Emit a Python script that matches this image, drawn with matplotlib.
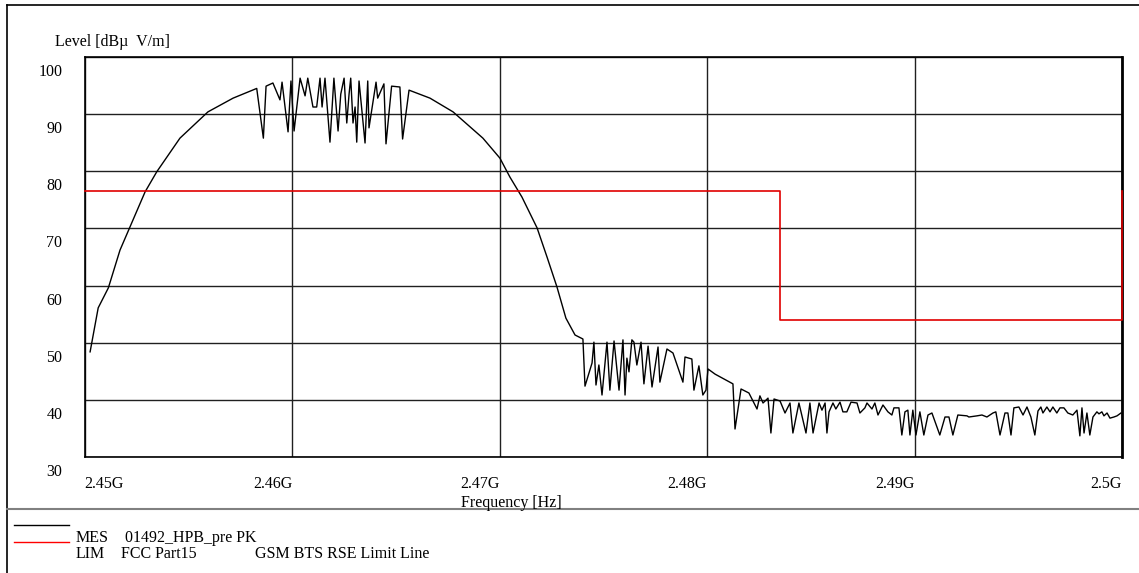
import matplotlib
matplotlib.use('Agg')
import matplotlib.pyplot as plt
from matplotlib.transforms import ScaledTranslation
from matplotlib.lines import Line2D

plt.rcParams['font.family'] = ['Liberation Serif', 'DejaVu Serif']

# measured trace, frequency in MHz / level in dBuV/m
freq_mhz = [
    2450.27, 2450.66, 2451.15, 2451.71, 2452.19, 2452.92, 2453.48, 2454.60, 2455.95, 2457.16, 2458.30,
    2458.62, 2458.75, 2459.08, 2459.42, 2459.52, 2459.81, 2459.95, 2460.10, 2460.39, 2460.63,
    2460.76, 2461.01, 2461.19, 2461.35, 2461.45, 2461.59, 2461.83, 2462.02, 2462.22, 2462.35,
    2462.51, 2462.64, 2462.75, 2462.83, 2462.94, 2463.04, 2463.12, 2463.23, 2463.52, 2463.65,
    2463.71, 2464.05, 2464.13, 2464.43, 2464.53, 2464.80, 2465.20, 2465.33, 2465.64,
    2466.65, 2467.76, 2469.20, 2470.02, 2470.50, 2471.08, 2471.81, 2472.29, 2472.77, 2473.20,
    2473.64, 2474.02,
    2474.12, 2474.46, 2474.55, 2474.65, 2474.79, 2474.94, 2475.18, 2475.32, 2475.52, 2475.76,
    2475.95, 2476.05, 2476.14, 2476.24, 2476.38, 2476.48, 2476.62, 2476.82, 2476.96, 2477.16,
    2477.35, 2477.64, 2477.73, 2478.07, 2478.36, 2478.84, 2478.94, 2479.27, 2479.37, 2479.61,
    2479.80, 2479.95, 2480.05, 2480.39, 2481.25, 2481.35, 2481.64, 2482.02, 2482.41, 2482.55,
    2482.70, 2482.94, 2483.08, 2483.23, 2483.52, 2483.76, 2484.00, 2484.14, 2484.43, 2484.77,
    2484.96, 2485.11, 2485.40, 2485.54, 2485.69, 2485.78, 2485.88, 2486.07, 2486.21, 2486.41,
    2486.55, 2486.74, 2486.94, 2487.23, 2487.37, 2487.61, 2487.71, 2487.95, 2488.09, 2488.24,
    2488.48, 2488.72, 2488.91, 2489.01, 2489.25, 2489.39, 2489.54, 2489.68, 2489.78, 2489.92,
    2490.07, 2490.26, 2490.45, 2490.65, 2490.84, 2491.22, 2491.47, 2491.66, 2491.85, 2492.09,
    2492.53, 2492.62, 2493.01, 2493.25, 2493.49, 2493.78, 2493.92, 2494.12, 2494.36, 2494.50,
    2494.65, 2494.79, 2495.03, 2495.23, 2495.42, 2495.61, 2495.80, 2495.95, 2496.09, 2496.19,
    2496.38, 2496.53, 2496.67, 2496.86, 2497.01, 2497.20, 2497.39, 2497.63, 2497.83, 2497.97,
    2498.07, 2498.17, 2498.31, 2498.45, 2498.60, 2498.79, 2498.89, 2499.03, 2499.13, 2499.28,
    2499.42, 2499.61, 2499.76, 2499.95,
]
level = [
    48.4, 56.1, 59.6, 66.2, 70.25, 76.4, 79.9, 85.8, 90.4, 92.8, 94.5,
    85.8, 94.9, 95.45, 92.5, 95.6, 86.9, 95.8, 87.05, 96.3, 93.2,
    96.3, 91.25, 91.25, 96.3, 91.25, 96.3, 85.1, 96.3, 87.05, 93.5,
    96.3, 88.45, 93.5, 96.3, 88.45, 91.25, 85.1, 95.8, 84.95, 95.8,
    87.6, 95.6, 92.8, 95.3, 84.8, 94.9, 94.75, 85.65, 94.2,
    92.8, 90.4, 85.8, 82.3, 79.0, 75.5, 70.1, 65.0, 59.75, 54.3,
    51.35, 50.65,
    42.4, 46.45, 50.1, 42.6, 46.1, 40.85, 50.1, 41.7, 50.3, 41.7,
    50.5, 40.85, 47.3, 44.9, 50.5, 50.1, 46.1, 50.1, 42.8, 49.4,
    42.25, 49.25, 43.1, 48.9, 48.2, 43.1, 47.5, 47.15, 41.7, 45.95,
    40.85, 41.7, 45.4, 44.5, 42.8, 34.9, 41.9, 41.2, 38.4, 40.7,
    39.45, 40.3, 34.2, 40.15, 39.8, 37.7, 39.45, 34.2, 39.45, 34.2,
    39.45, 34.2, 39.45, 38.2, 39.45, 34.2, 37.9, 39.45, 38.4, 39.6,
    37.9, 37.9, 39.6, 39.45, 37.7, 38.6, 39.45, 38.4, 39.45, 37.35,
    39.1, 37.9, 37.35, 38.6, 38.6, 33.85, 37.9, 38.2, 33.85, 38.2,
    33.85, 37.9, 33.85, 37.35, 37.7, 33.85, 37.0, 37.0, 33.85, 37.35,
    37.2, 37.0, 37.2, 37.35, 37.0, 37.7, 37.9, 33.85, 37.7, 37.7,
    33.85, 38.6, 38.75, 37.35, 38.75, 37.0, 33.85, 38.05, 38.75, 37.7,
    38.75, 37.9, 38.75, 37.7, 38.6, 38.6, 37.7, 37.35, 38.2, 33.7,
    38.6, 34.2, 37.7, 33.85, 37.0, 37.9, 37.55, 37.9, 37.2, 37.7,
    36.8, 37.0, 37.2, 37.7,
]

limit_freq_mhz = [2450.0, 2483.5, 2483.5, 2500.0, 2500.0]
limit_level = [76.5, 76.5, 54.0, 54.0, 76.5]

x_ticks_mhz = [2450, 2460, 2470, 2480, 2490, 2500]
x_tick_labels = ['2.45G', '2.46G', '2.47G', '2.48G', '2.49G', '2.5G']
y_ticks = [30, 40, 50, 60, 70, 80, 90, 100]

W, H = 1139, 573
fig = plt.figure(figsize=(W / 100, H / 100), dpi=100)
ax = fig.add_axes([84.5 / W, 1 - 457 / H, (1122 - 84.5) / W, (457 - 57) / H])

ax.plot(freq_mhz, level, color='black', lw=1.0)
ax.plot(limit_freq_mhz, limit_level, color='#e00000', lw=1.2, clip_on=False, zorder=3)

ax.set_xlim(2450, 2500)
ax.set_ylim(30, 100)
ax.set_xticks(x_ticks_mhz)
ax.set_xticklabels(x_tick_labels)
ax.set_yticks(y_ticks)
ax.set_yticklabels([str(v) for v in y_ticks])
ax.tick_params(length=0, labelsize=11.5)
ax.tick_params(axis='x', pad=14)
ax.tick_params(axis='y', pad=16)
ax.grid(True, color='#202020', lw=1.0)

for s in ax.spines.values():
    s.set_color('black')
    s.set_linewidth(1.2)
ax.spines['right'].set_linewidth(2.0)

# tick labels sit slightly off the grid lines in the original export
shift_down = ScaledTranslation(0, -13 / 100, fig.dpi_scale_trans)
for lab in ax.get_yticklabels():
    lab.set_transform(lab.get_transform() + shift_down)
for i, lab in enumerate(ax.get_xticklabels()):
    lab.set_horizontalalignment('left' if i == 0 else 'right')

fig.text(55 / W, 1 - 42 / H, 'Level [dB\u00b5  V/m]', fontsize=11.5, va='center', ha='left')
fig.text(511 / W, 1 - 503 / H, 'Frequency [Hz]', fontsize=11.5, va='center', ha='center')

# frame and separator
fig.add_artist(Line2D([7 / W, 7 / W], [0, 1 - 5 / H], color='black', lw=1.2))
fig.add_artist(Line2D([7 / W, 1], [1 - 5 / H, 1 - 5 / H], color='black', lw=1.2))
fig.add_artist(Line2D([7 / W, 1], [1 - 509 / H, 1 - 509 / H], color='#808080', lw=1.5))

# legend block
fig.add_artist(Line2D([14 / W, 69 / W], [1 - 525 / H, 1 - 525 / H], color='black', lw=1.0))
fig.add_artist(Line2D([14 / W, 69 / W], [1 - 541.5 / H, 1 - 541.5 / H], color='#ff0000', lw=1.0))
fig.text(76 / W, 1 - 538 / H, 'MES', fontsize=11.5, va='center')
fig.text(125 / W, 1 - 538 / H, '01492_HPB_pre PK', fontsize=11.5, va='center')
fig.text(76 / W, 1 - 554 / H, 'LIM', fontsize=11.5, va='center')
fig.text(121 / W, 1 - 554 / H, 'FCC Part15', fontsize=11.5, va='center')
fig.text(255 / W, 1 - 554 / H, 'GSM BTS RSE Limit Line', fontsize=11.5, va='center')

fig.savefig('out.png', dpi=100, facecolor='white')
